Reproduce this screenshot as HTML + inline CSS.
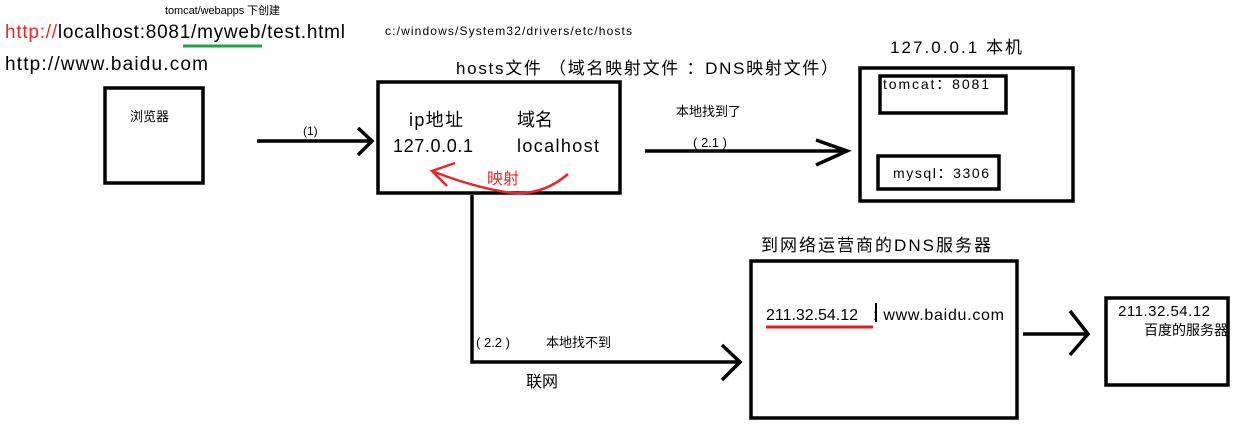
<!DOCTYPE html>
<html><head><meta charset="utf-8"><style>
html,body{margin:0;padding:0;background:#fff;}
svg{display:block;}
text{font-family:"Liberation Sans","Noto Sans CJK SC",sans-serif;fill:#000;}
</style></head><body>
<svg width="1247" height="437" viewBox="0 0 1247 437" xmlns="http://www.w3.org/2000/svg">
<g fill="none" stroke="#000" stroke-width="3.5">
<rect x="105" y="88" width="98" height="95"/>
<rect x="378" y="82" width="242" height="111"/>
<rect x="860" y="68" width="213" height="133"/>
<rect x="880" y="76" width="126" height="37"/>
<rect x="878" y="156" width="121" height="33"/>
<rect x="751" y="261" width="266" height="157"/>
<rect x="1106" y="298" width="122" height="87"/>
<path d="M257 141 H370 M358 128 L372 141 L358 155"/>
<path d="M645 151 H847 M816 140 L847 151 L816 165"/>
<path d="M472 195 V362 H740 M722 345 L740 362 L722 380"/>
<path d="M1023 334 H1088 M1070 311 L1088 334 L1070 355"/>
</g>
<path d="M183 46 H262" stroke="#22a046" stroke-width="3"/>
<path d="M766 327 H873" stroke="#e02020" stroke-width="3"/>
<g fill="none" stroke="#e8262b" stroke-width="2.5">
<path d="M568 174 Q540 198 505 192 Q470 186 432 171"/>
<path d="M455 163 L432 171 L447 186"/>
</g>
<path d="M876 303 V322" stroke="#000" stroke-width="2"/>
<text x="165" y="14" font-size="11" textLength="115">tomcat/webapps  下创建</text>
<text x="5" y="38" font-size="19" textLength="340"><tspan style="fill:#e8262b">http://</tspan>localhost:8081/myweb/test.html</text>
<text x="385" y="35" font-size="12" textLength="247">c:/windows/System32/drivers/etc/hosts</text>
<text x="5" y="70" font-size="19" textLength="203">http://www.baidu.com</text>
<text x="456" y="74" font-size="17" textLength="382">hosts文件 （域名映射文件 ：DNS映射文件）</text>
<text x="890" y="53" font-size="17" textLength="132">127.0.0.1  本机</text>
<text x="130" y="121" font-size="13">浏览器</text>
<text x="303" y="135" font-size="12">(1)</text>
<text x="409" y="126" font-size="18" textLength="54">ip地址</text>
<text x="517" y="126" font-size="18">域名</text>
<text x="393" y="152" font-size="18" textLength="80">127.0.0.1</text>
<text x="517" y="152" font-size="18" textLength="82">localhost</text>
<text x="487" y="184" font-size="16" style="fill:#e8262b">映射</text>
<text x="676" y="116" font-size="13">本地找到了</text>
<text x="693" y="147" font-size="13">( 2.1 )</text>
<text x="883" y="89" font-size="14" textLength="106">tomcat：8081</text>
<text x="893" y="178" font-size="14" textLength="96">mysql：3306</text>
<text x="761" y="251" font-size="17" textLength="230">到网络运营商的DNS服务器</text>
<text x="766" y="320" font-size="16" textLength="92">211.32.54.12</text>
<text x="873" y="320" font-size="16" textLength="131">: www.baidu.com</text>
<text x="476" y="347" font-size="13">( 2.2 )</text>
<text x="546" y="347" font-size="13">本地找不到</text>
<text x="526" y="387" font-size="16">联网</text>
<text x="1118" y="316" font-size="15" textLength="92">211.32.54.12</text>
<text x="1144" y="335" font-size="14">百度的服务器</text>
</svg>
</body></html>
